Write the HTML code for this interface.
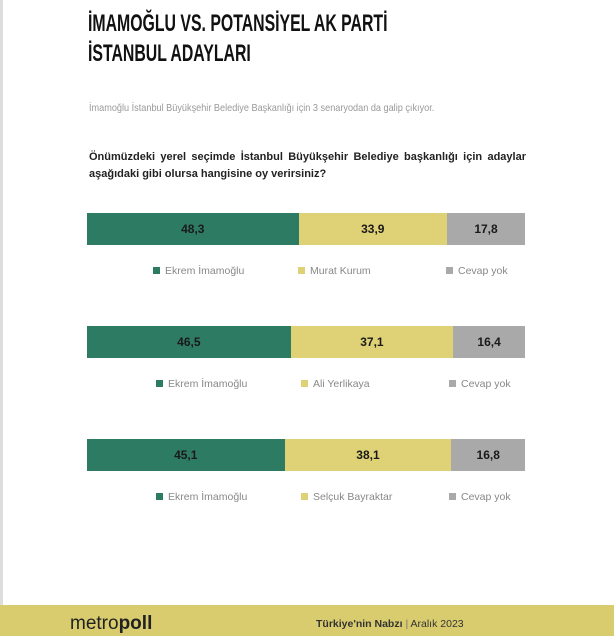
<!DOCTYPE html>
<html><head><meta charset="utf-8"><style>
body{margin:0;width:614px;height:636px;background:#fff;position:relative;overflow:hidden;font-family:"Liberation Sans",sans-serif}
.abs{position:absolute}
h1{position:absolute;left:88px;top:9px;margin:0;font-size:24px;line-height:30px;font-weight:bold;color:#111;transform:scaleX(0.66);transform-origin:left;white-space:nowrap}
</style></head><body>
<div class="abs" style="left:0;top:0;width:3px;height:605px;background:#ddd"></div>
<h1>İMAMOĞLU VS. POTANSİYEL AK PARTİ<br>İSTANBUL ADAYLARI</h1>
<div class="abs" style="left:89px;top:102px;font-size:10.5px;color:#999;transform:scaleX(0.87);transform-origin:left;white-space:nowrap">İmamoğlu İstanbul Büyükşehir Belediye Başkanlığı için 3 senaryodan da galip çıkıyor.</div>
<div class="abs" style="left:89px;top:149px;width:437px;font-size:11px;line-height:17px;font-weight:bold;color:#222;text-align:justify;text-align-last:left">Önümüzdeki yerel seçimde İstanbul Büyükşehir Belediye başkanlığı için adaylar aşağıdaki gibi olursa hangisine oy verirsiniz?</div>
<div id="chart"></div>
<div class="abs" style="left:0;top:605px;width:614px;height:31px;background:#d9cc6e"></div>
<div class="abs" style="left:70px;top:613px;font-size:19px;color:#222;line-height:22px">metro<b>poll</b></div>
<div class="abs" style="left:316px;top:618px;font-size:10.5px;color:#333"><b style="font-weight:600">Türkiye'nin Nabzı</b> <span style="color:#777">|</span> Aralık 2023</div>
<script>
const scenarios=["Murat Kurum","Ali Yerlikaya","Selçuk Bayraktar"];
const imamoglu=[48.3,46.5,45.1];
const rival=[33.9,37.1,38.1];
const noAnswer=[17.8,16.4,16.8];
const colors=["#2e7b63","#dfd175","#a9a9a9"];
const X0=87,W=438,rowTops=[213,326,439],H=32;
const x=v=>v/100*W;
const c=document.getElementById('chart');
const fmt=v=>v.toFixed(1).replace('.',',');
scenarios.forEach((s,i)=>{
  const vals=[imamoglu[i],rival[i],noAnswer[i]];
  const tot=vals.reduce((a,b)=>a+b,0);
  let cum=0;
  vals.forEach((v,j)=>{
    const d=document.createElement('div');
    
    
    const left=X0+x(cum/tot*100),w=x(v/tot*100);
    d.style.cssText=`position:absolute;left:${left}px;top:${rowTops[i]}px;width:${w}px;height:${H}px;background:${colors[j]};font-size:12px;font-weight:bold;color:#1a1a1a;display:flex;align-items:center;justify-content:center`;
    d.textContent=fmt(v);
    c.appendChild(d);cum+=v;
  });
  const names=["Ekrem İmamoğlu",s,"Cevap yok"];
  const lx=[153,298,446];
  names.forEach((n,j)=>{
    const e=document.createElement('div');
    
    
    e.style.cssText=`position:absolute;left:${lx[j]+(i?3:0)}px;top:${rowTops[i]+52}px;font-size:10.5px;color:#888;white-space:nowrap`;
    e.innerHTML=`<span style="display:inline-block;width:7px;height:7px;background:${colors[j]};margin-right:5px"></span>${n}`;
    c.appendChild(e);
  });
});
</script>
</body></html>
